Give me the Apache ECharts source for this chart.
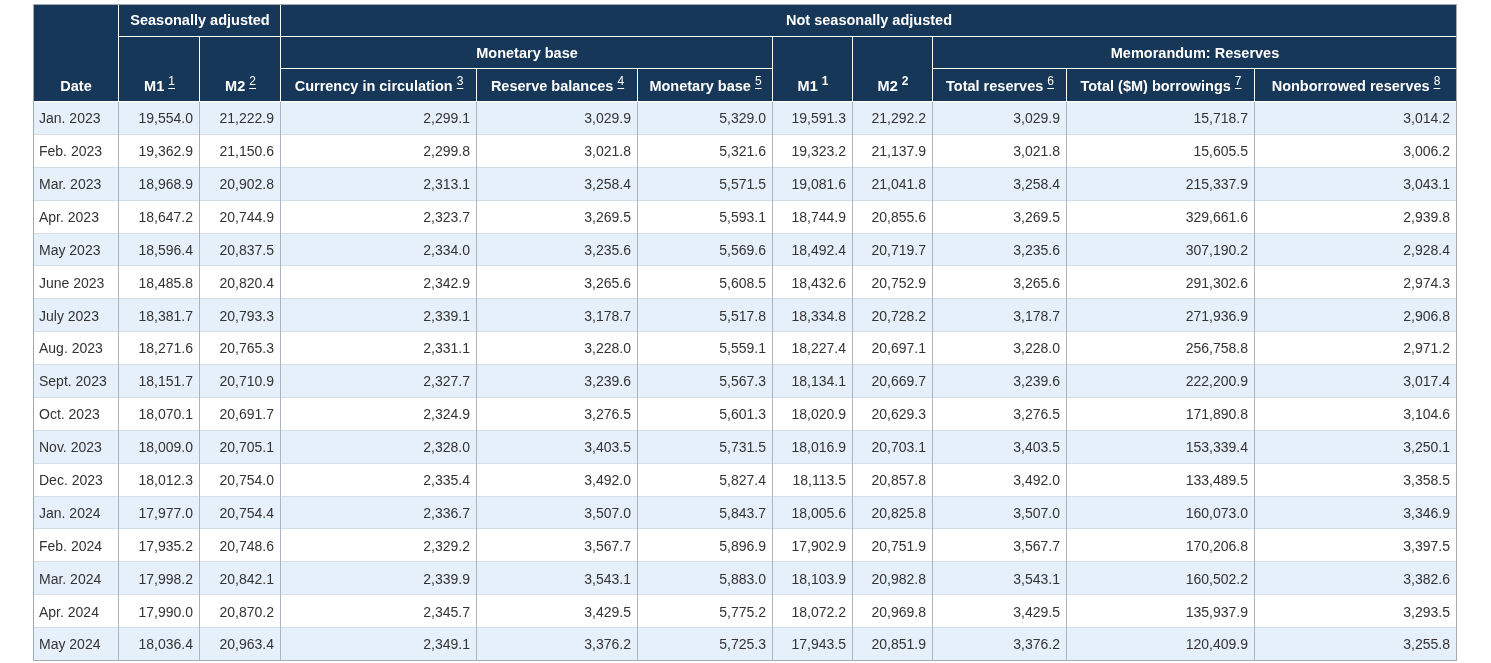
<!DOCTYPE html>
<html><head><meta charset="utf-8">
<script src="https://cdn.jsdelivr.net/npm/echarts@6/dist/echarts.min.js"></script>
<style>html,body{margin:0;padding:0;background:#fff}#c{width:1491px;height:663px}</style>
</head><body><div id="c"></div>
<script>
// ---- data ----
const dates = ['Jan. 2023','Feb. 2023','Mar. 2023','Apr. 2023','May 2023','June 2023','July 2023','Aug. 2023','Sept. 2023','Oct. 2023','Nov. 2023','Dec. 2023','Jan. 2024','Feb. 2024','Mar. 2024','Apr. 2024','May 2024'];
const m1SA = [19554.0,19362.9,18968.9,18647.2,18596.4,18485.8,18381.7,18271.6,18151.7,18070.1,18009.0,18012.3,17977.0,17935.2,17998.2,17990.0,18036.4];
const m2SA = [21222.9,21150.6,20902.8,20744.9,20837.5,20820.4,20793.3,20765.3,20710.9,20691.7,20705.1,20754.0,20754.4,20748.6,20842.1,20870.2,20963.4];
const currency = [2299.1,2299.8,2313.1,2323.7,2334.0,2342.9,2339.1,2331.1,2327.7,2324.9,2328.0,2335.4,2336.7,2329.2,2339.9,2345.7,2349.1];
const reserveBalances = [3029.9,3021.8,3258.4,3269.5,3235.6,3265.6,3178.7,3228.0,3239.6,3276.5,3403.5,3492.0,3507.0,3567.7,3543.1,3429.5,3376.2];
const monetaryBase = [5329.0,5321.6,5571.5,5593.1,5569.6,5608.5,5517.8,5559.1,5567.3,5601.3,5731.5,5827.4,5843.7,5896.9,5883.0,5775.2,5725.3];
const m1NSA = [19591.3,19323.2,19081.6,18744.9,18492.4,18432.6,18334.8,18227.4,18134.1,18020.9,18016.9,18113.5,18005.6,17902.9,18103.9,18072.2,17943.5];
const m2NSA = [21292.2,21137.9,21041.8,20855.6,20719.7,20752.9,20728.2,20697.1,20669.7,20629.3,20703.1,20857.8,20825.8,20751.9,20982.8,20969.8,20851.9];
const totalReserves = [3029.9,3021.8,3258.4,3269.5,3235.6,3265.6,3178.7,3228.0,3239.6,3276.5,3403.5,3492.0,3507.0,3567.7,3543.1,3429.5,3376.2];
const totalBorrowings = [15718.7,15605.5,215337.9,329661.6,307190.2,291302.6,271936.9,256758.8,222200.9,171890.8,153339.4,133489.5,160073.0,170206.8,160502.2,135937.9,120409.9];
const nonborrowedReserves = [3014.2,3006.2,3043.1,2939.8,2928.4,2974.3,2906.8,2971.2,3017.4,3104.6,3250.1,3358.5,3346.9,3397.5,3382.6,3293.5,3255.8];

// header labels: [text, footnote, footnote style, firstCol, lastCol(excl), firstRow, lastRow(excl)]
const headerLabels = [
  ['Date', '', '', 0, 1, 0, 3],
  ['Seasonally adjusted', '', '', 1, 3, 0, 1],
  ['M1', '1', 'link', 1, 2, 1, 3],
  ['M2', '2', 'link', 2, 3, 1, 3],
  ['Not seasonally adjusted', '', '', 3, 11, 0, 1],
  ['Monetary base', '', '', 3, 6, 1, 2],
  ['Currency in circulation', '3', 'link', 3, 4, 2, 3],
  ['Reserve balances', '4', 'link', 4, 5, 2, 3],
  ['Monetary base', '5', 'link', 5, 6, 2, 3],
  ['M1', '1', 'bold', 6, 7, 1, 3],
  ['M2', '2', 'bold', 7, 8, 1, 3],
  ['Memorandum: Reserves', '', '', 8, 11, 1, 2],
  ['Total reserves', '6', 'link', 8, 9, 2, 3],
  ['Total ($M) borrowings', '7', 'link', 9, 10, 2, 3],
  ['Nonborrowed reserves', '8', 'link', 10, 11, 2, 3]
];

// ---- layout / style ----
const columns = [dates, m1SA, m2SA, currency, reserveBalances, monetaryBase, m1NSA, m2NSA, totalReserves, totalBorrowings, nonborrowedReserves];
const COL_EDGES = [0, 86, 167, 248, 444, 605, 740, 820, 900, 1034, 1222, 1424];
const NCOL = columns.length;
const NAVY = '#173758', ROW_ALT = '#e6f0fa', VLINE = '#a8b6c5', HLINE = '#d5dde6', BORDER = '#a2aab4', TXT = '#333333';
const FONT = '"Liberation Sans", Arial, Helvetica, sans-serif';
const HFONT = 'bold 14.5px ' + FONT;
const DFONT = '14px ' + FONT;
const TEXT_DY = 1;

const mctx = document.createElement('canvas').getContext('2d');
function tw(text, font) { mctx.font = font; return mctx.measureText(text).width; }
const fmt = v => v.toLocaleString('en-US', {minimumFractionDigits: 1, maximumFractionDigits: 1});
const px = v => Math.round(v);

function line(x1, y1, x2, y2, color) {
  return {type: 'line', shape: {x1, y1, x2, y2}, style: {stroke: color, lineWidth: 1}, silent: true};
}

function renderHeader(params, api) {
  const h = headerLabels[api.value(2)];
  const [text, sup, supStyle, c0, c1, r0, r1] = h;
  const p0 = api.coord([COL_EDGES[c0], r0]);
  const p1 = api.coord([COL_EDGES[c1], r1]);
  const x0 = px(p0[0]), y0 = px(p0[1]), x1 = px(p1[0]), y1 = px(p1[1]);
  const cy = api.coord([0, r1 - 0.5])[1] + TEXT_DY;
  const cx = (x0 + x1) / 2;
  const children = [];
  children.push({type: 'rect', shape: {x: x0, y: y0, width: x1 - x0, height: y1 - y0}, style: {fill: NAVY}});
  if (c1 < NCOL) children.push(line(x1 - 0.5, y0, x1 - 0.5, y1, '#ffffff'));
  children.push(line(x0, y1 - 0.5, x1, y1 - 0.5, '#ffffff'));
  if (r0 === 0) children.push(line(x0, y0 + 0.5, x1, y0 + 0.5, BORDER));
  if (c0 === 0) children.push(line(x0 + 0.5, y0, x0 + 0.5, y1, BORDER));
  if (c1 === NCOL) children.push(line(x1 - 0.5, y0, x1 - 0.5, y1, BORDER));

  const mainW = tw(text, HFONT);
  const supFont = supStyle === 'bold' ? 'bold 12px ' + FONT : '12px ' + FONT;
  const gap = sup ? tw(' ', HFONT) : 0;
  const supW = sup ? tw(sup, supFont) : 0;
  const total = mainW + gap + supW;
  const sx = cx - total / 2;
  children.push({type: 'text', style: {text: text, x: sx, y: cy, fill: '#ffffff', font: HFONT, align: 'left', verticalAlign: 'middle'}});
  if (sup) {
    const supX = sx + mainW + gap;
    children.push({type: 'text', style: {text: sup, x: supX, y: cy - 5, fill: '#ffffff', font: supFont, align: 'left', verticalAlign: 'middle'}});
    if (supStyle === 'link') children.push(line(supX, px(cy) + 1.5, supX + supW, px(cy) + 1.5, '#ffffff'));
  }
  return {type: 'group', children};
}

function renderCell(params, api) {
  const c = api.value(2), r = api.value(3);
  const bandH = api.size([0, 1])[1];
  const pc = api.coord([COL_EDGES[c], r]);
  const pe = api.coord([COL_EDGES[c + 1], r]);
  const x0 = px(pc[0]), x1 = px(pe[0]);
  const y0 = px(pc[1] - bandH / 2), y1 = px(pc[1] + bandH / 2);
  const cy = pc[1] + TEXT_DY;
  const last = r === dates.length - 1;
  const children = [];
  children.push({type: 'rect', shape: {x: x0, y: y0, width: x1 - x0, height: y1 - y0}, style: {fill: r % 2 === 0 ? ROW_ALT : '#ffffff'}});
  children.push(line(x0, y1 - 0.5, x1, y1 - 0.5, last ? BORDER : HLINE));
  children.push(line(x1 - 0.5, y0, x1 - 0.5, y1, c === NCOL - 1 ? BORDER : VLINE));
  if (c === 0) children.push(line(x0 + 0.5, y0, x0 + 0.5, y1, BORDER));
  const raw = columns[c][r];
  const text = c === 0 ? raw : fmt(raw);
  children.push({type: 'text', style: {text, x: c === 0 ? x0 + 6 : x1 - 7, y: cy, fill: TXT, font: DFONT, align: c === 0 ? 'left' : 'right', verticalAlign: 'middle'}});
  return {type: 'group', children};
}

const headerData = headerLabels.map((h, i) => [COL_EDGES[h[3]], h[5], i]);
const cellData = [];
for (let r = 0; r < dates.length; r++) for (let c = 0; c < NCOL; c++) cellData.push([COL_EDGES[c], r, c, r]);

const chart = echarts.init(document.getElementById('c'), null, {renderer: 'canvas'});
chart.setOption({
  animation: false,
  backgroundColor: '#ffffff',
  grid: [
    {left: 33, top: 4, width: 1424, height: 98},
    {left: 33, top: 102, width: 1424, height: 559}
  ],
  xAxis: [
    {gridIndex: 0, type: 'value', min: 0, max: 1424, show: false},
    {gridIndex: 1, type: 'value', min: 0, max: 1424, show: false}
  ],
  yAxis: [
    {gridIndex: 0, type: 'value', min: 0, max: 3, inverse: true, show: false},
    {gridIndex: 1, type: 'category', data: dates, inverse: true, show: false, boundaryGap: true}
  ],
  series: [
    {type: 'custom', xAxisIndex: 0, yAxisIndex: 0, data: headerData, renderItem: renderHeader, encode: {x: 0, y: 1}, silent: true, clip: false},
    {type: 'custom', xAxisIndex: 1, yAxisIndex: 1, data: cellData, renderItem: renderCell, encode: {x: 0, y: 1}, silent: true, clip: false}
  ]
});
</script></body></html>
